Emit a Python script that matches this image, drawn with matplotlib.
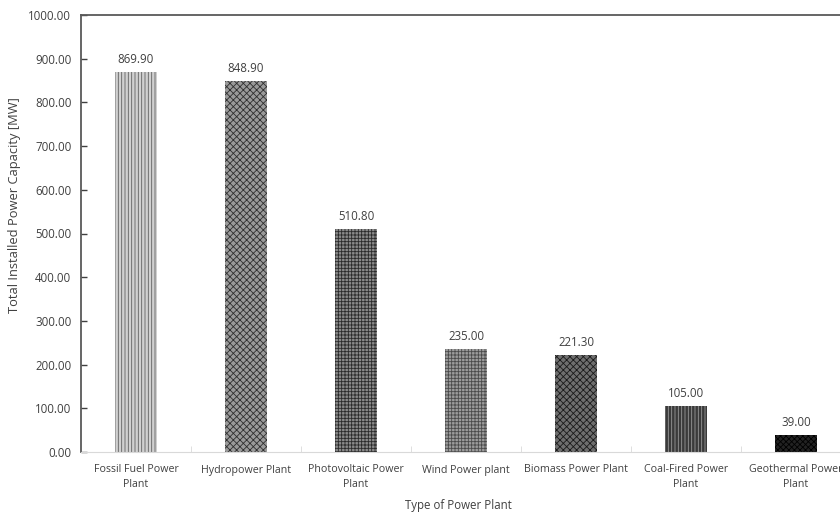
import matplotlib.pyplot as plt
import numpy as np

plt.rcParams['font.family'] = ['Open Sans', 'DejaVu Sans']
plt.rcParams['hatch.linewidth'] = 0.6

plants = ['Fossil Fuel Power\nPlant', 'Hydropower Plant', 'Photovoltaic Power\nPlant',
          'Wind Power plant', 'Biomass Power Plant', 'Coal-Fired Power\nPlant',
          'Geothermal Power\nPlant']
capacity = [869.90, 848.90, 510.80, 235.00, 221.30, 105.00, 39.00]

# greyscale fill + hatch per bar
faces = ['#d0d0d0', '#9a9a9a', '#8a8a8a', '#9c9c9c', '#6e6e6e', '#3a3a3a', '#222222']
edges = ['#606060', '#303030', '#2a2a2a', '#4a4a4a', '#1a1a1a', '#9a9a9a', '#000000']
hatches = ['|||||', 'xxxxx', '+++++', '+++++', 'xxxxx', '|||||', 'xxxxxx']

txt = '#404040'
fs = 8.3

fig = plt.figure(figsize=(8.4, 5.14), dpi=100)
ax = fig.add_axes([81/840, 1 - 452/514, 770/840, 437/514])

x = np.arange(len(plants))
for i in range(len(plants)):
    ax.bar(x[i], capacity[i], width=0.38, color=faces[i], edgecolor=edges[i],
           hatch=hatches[i], linewidth=0)
    ax.text(x[i], capacity[i] + 14, '%.2f' % capacity[i], ha='center', va='bottom',
            fontsize=fs, color=txt)

ax.set_xlim(-0.5, len(plants) - 0.5)
ax.set_ylim(0, 1000)
ax.set_yticks(np.arange(0, 1001, 100))
ax.set_yticklabels(['%.2f' % v for v in np.arange(0, 1001, 100)])
ax.set_xticks(x)
ax.set_xticklabels(plants, linespacing=1.45)
ax.set_xticks(np.arange(0.5, len(plants) - 0.5, 1), minor=True)

ax.tick_params(axis='y', direction='in', length=4, width=1, color='#404040',
               labelsize=fs, labelcolor=txt, pad=7)
ax.tick_params(axis='x', which='major', length=0, labelsize=7.7, labelcolor=txt, pad=9)
ax.tick_params(axis='x', which='minor', direction='in', length=4, color='#d9d9d9')

for s in ['left', 'top']:
    ax.spines[s].set_color('#595959')
    ax.spines[s].set_linewidth(1.3)
ax.spines['bottom'].set_color('#d9d9d9')
ax.spines['right'].set_visible(False)

fig.text(15/840, 1 - 205/514, 'Total Installed Power Capacity [MW]', rotation=90,
         ha='center', va='center', fontsize=9.3, color=txt)
fig.text(458/840, 1 - 506/514, 'Type of Power Plant', ha='center', va='center',
         fontsize=fs, color=txt)

fig.savefig('out.png', dpi=100)
